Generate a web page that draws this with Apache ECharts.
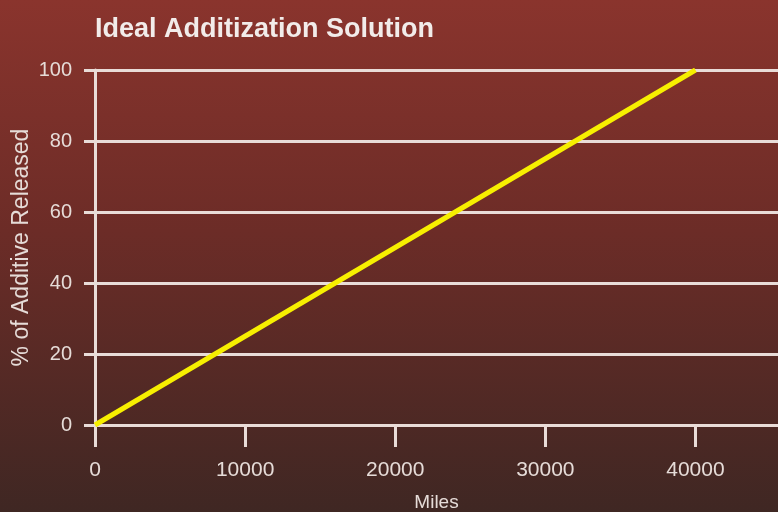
<!DOCTYPE html>
<html><head><meta charset="utf-8">
<script src="https://cdn.jsdelivr.net/npm/echarts@6/dist/echarts.min.js"></script>
<style>html,body{margin:0;padding:0;}#c{width:778px;height:512px;}</style>
</head><body><div id="c"></div>
<script>
const title = "Ideal Additization Solution";
const xName = "Miles";
const yName = "% of Additive Released";
const miles = [0, 40000];
const released = [0, 100];
const xTicks = [0, 10000, 20000, 30000, 40000];

const lineCol = '#e9dcd8';
const txtCol = '#e6dcd8';
const chart = echarts.init(document.getElementById('c'));
chart.setOption({
  backgroundColor: {type:'linear', x:0, y:0, x2:0, y2:1, colorStops:[
    {offset:0, color:'#8a342d'},
    {offset:0.45, color:'#6c2c27'},
    {offset:1, color:'#3f2723'}
  ]},
  title: {text: title, left: 90, top: 11,
    textStyle:{color:'#f2ecea', fontSize:27, fontWeight:'bold', fontFamily:'Liberation Sans'}},
  grid: {left: 95, top: 70, right: 0, bottom: 87, containLabel:false, outerBoundsMode:'none'},
  xAxis: {type:'value', min:0, max:45500,
    name: xName, nameLocation:'middle', nameGap:68,
    nameTextStyle:{color:txtCol, fontSize:19, fontFamily:'Liberation Sans'},
    axisLine:{show:true, lineStyle:{color:lineCol, width:3}},
    axisTick:{show:true, length:22, customValues: xTicks, lineStyle:{color:lineCol, width:3}},
    axisLabel:{color:txtCol, fontSize:21, margin:35, fontFamily:'Liberation Sans', customValues: xTicks,
      formatter: v => String(v)},
    splitLine:{show:false}},
  yAxis: {type:'value', min:0, max:100, interval:20,
    name: yName, nameLocation:'middle', nameGap:62, nameRotate:90, nameMoveOverlap:false,
    nameTextStyle:{color:txtCol, fontSize:23, fontFamily:'Liberation Sans'},
    axisLine:{show:true, lineStyle:{color:lineCol, width:3}},
    axisTick:{show:true, length:11, lineStyle:{color:lineCol, width:3}},
    axisLabel:{color:txtCol, fontSize:20, margin:23, fontFamily:'Liberation Sans'},
    splitLine:{show:true, lineStyle:{color:lineCol, width:3}}},
  series: [{type:'line', data: miles.map((m,i)=>[m, released[i]]),
    showSymbol:false, lineStyle:{color:'#f7ef00', width:5}, z:5}]
});
</script></body></html>
